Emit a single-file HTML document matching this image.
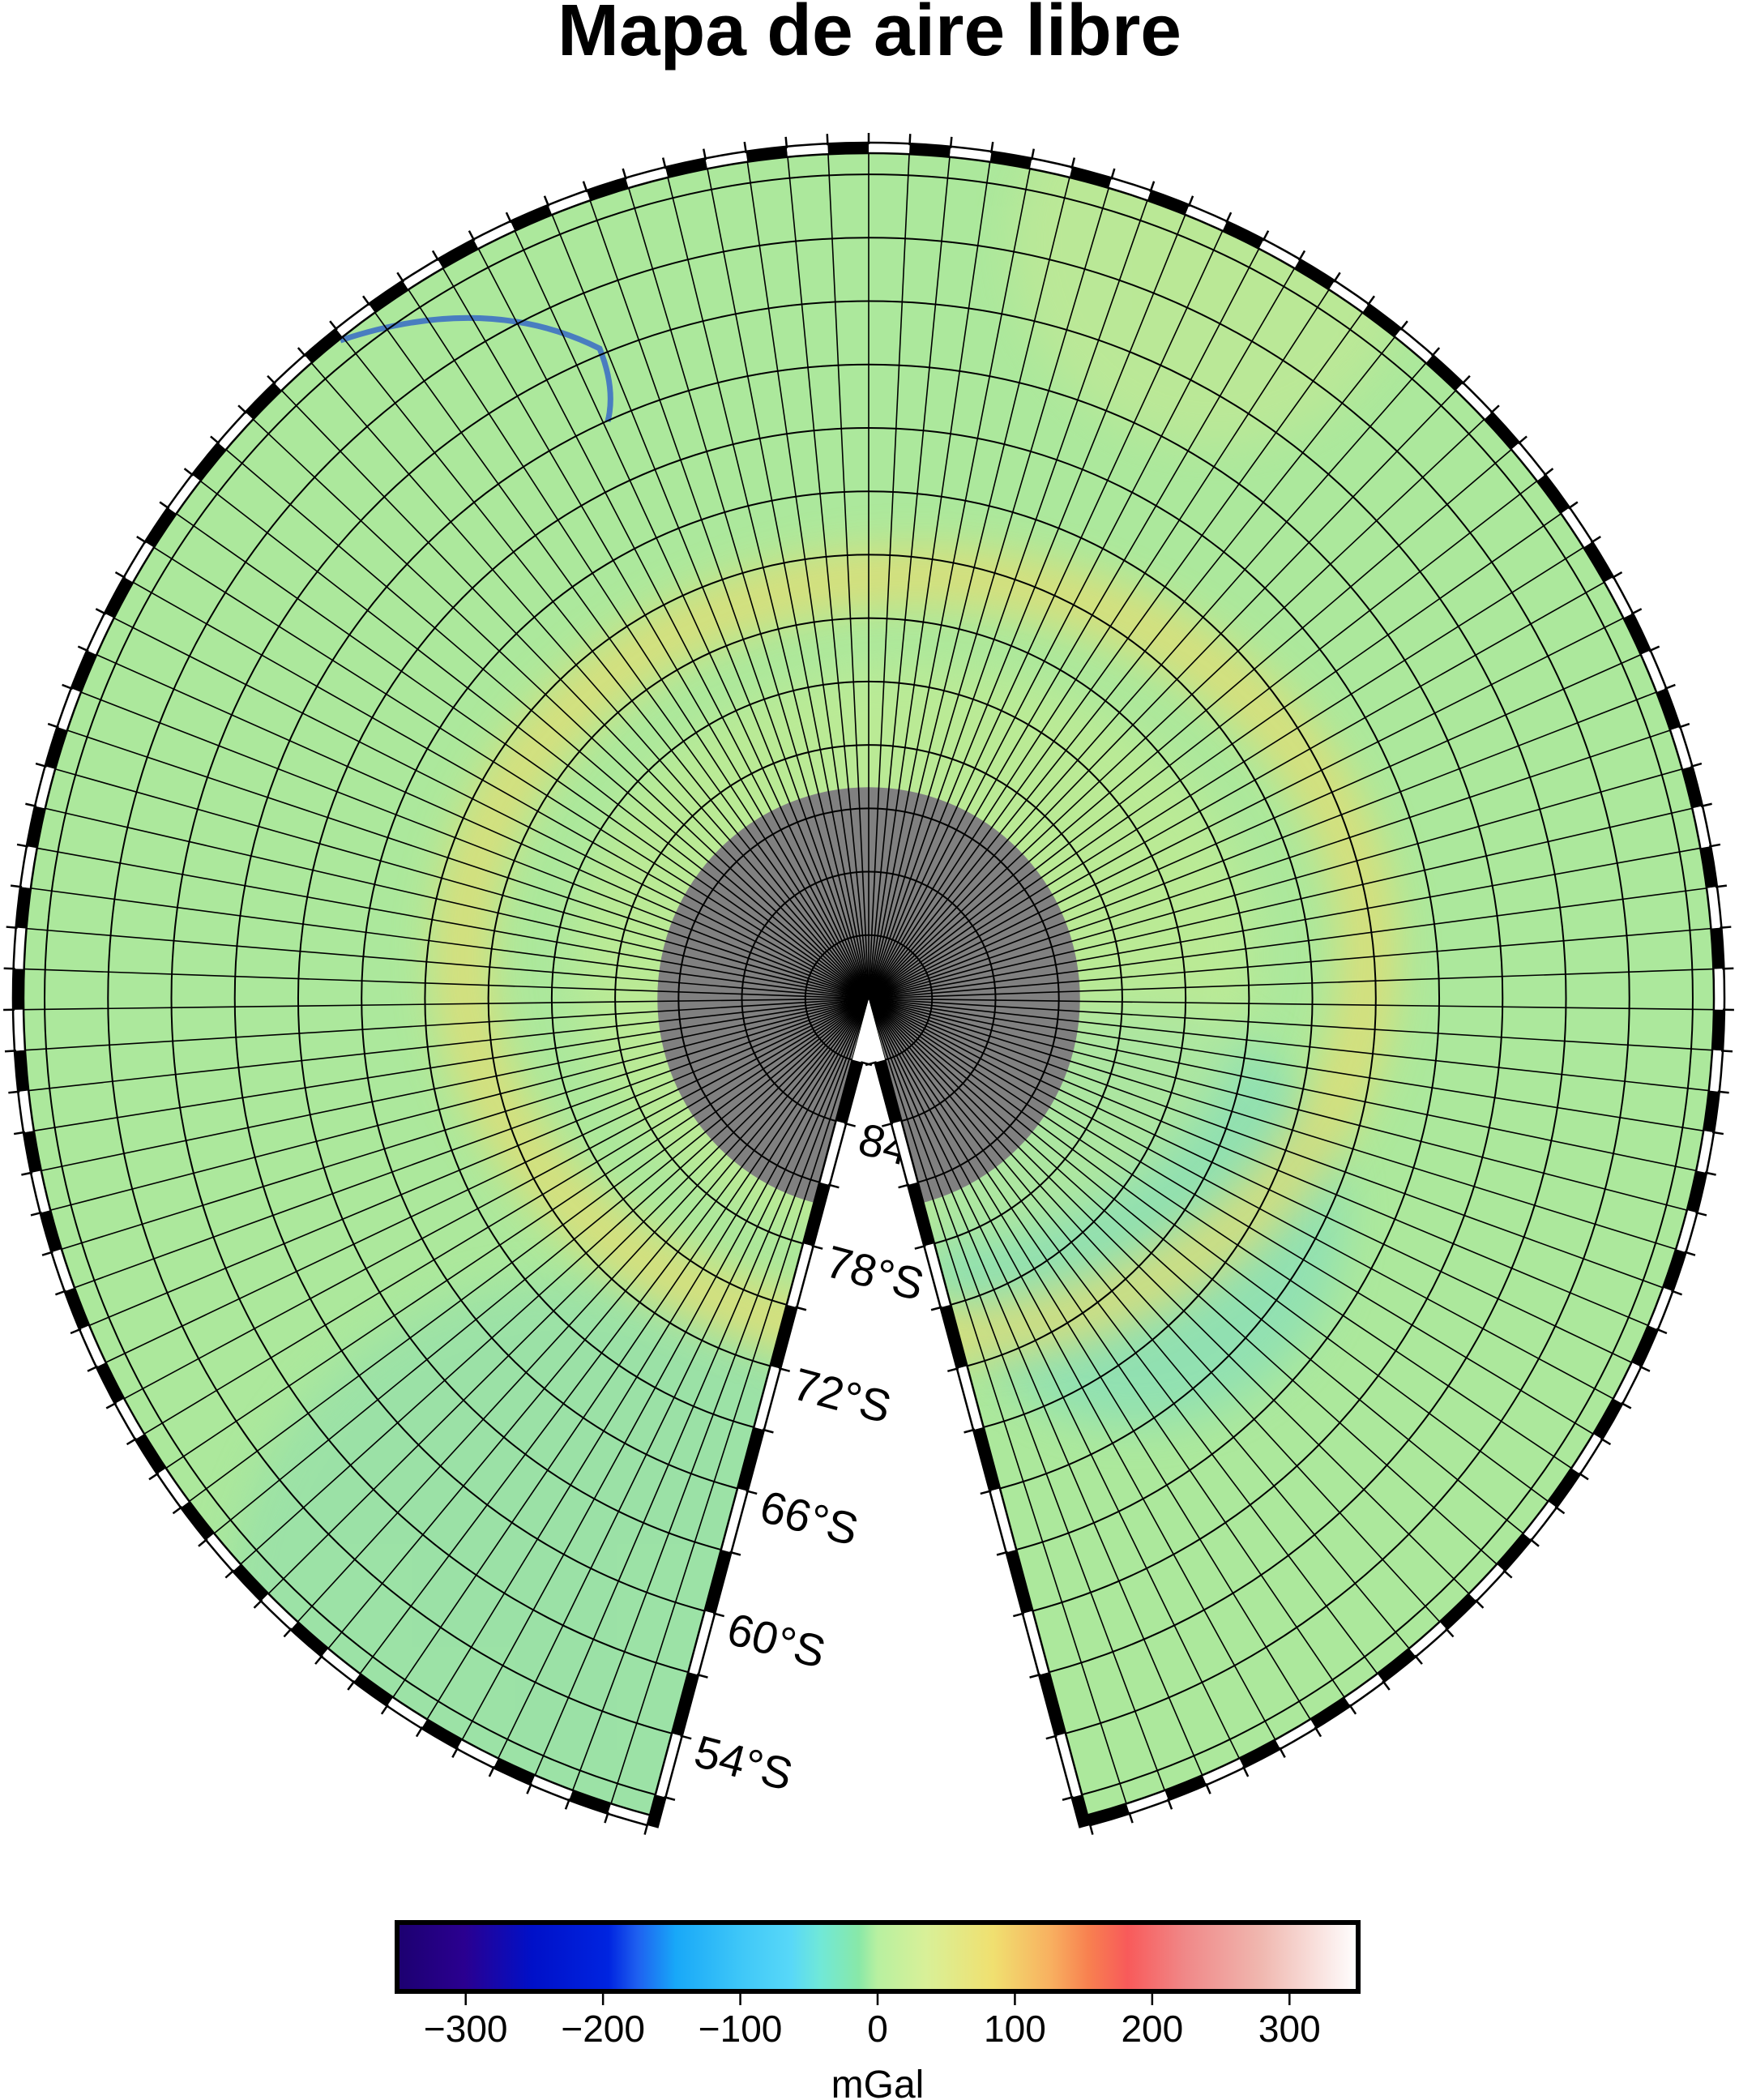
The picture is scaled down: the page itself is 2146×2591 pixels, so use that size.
<!DOCTYPE html>
<html><head><meta charset="utf-8"><style>
html,body{margin:0;padding:0;background:#fff;}
svg{display:block;}
text{font-family:"Liberation Sans",sans-serif;}
</style></head><body>
<svg id="chart" width="2146" height="2591" viewBox="0 0 2146 2591" xmlns="http://www.w3.org/2000/svg">
<defs>
  <linearGradient id="cpt" x1="0" x2="1" y1="0" y2="0">
    <stop offset="0" stop-color="#1c0070"/>
    <stop offset="0.07" stop-color="#2a0090"/>
    <stop offset="0.14" stop-color="#0010c8"/>
    <stop offset="0.22" stop-color="#0024e0"/>
    <stop offset="0.25" stop-color="#1e60f0"/>
    <stop offset="0.29" stop-color="#18a8f8"/>
    <stop offset="0.36" stop-color="#40c8f8"/>
    <stop offset="0.41" stop-color="#58d8f8"/>
    <stop offset="0.44" stop-color="#70e8d8"/>
    <stop offset="0.48" stop-color="#88e8a8"/>
    <stop offset="0.5" stop-color="#b8f0a0"/>
    <stop offset="0.55" stop-color="#d8f098"/>
    <stop offset="0.62" stop-color="#f0e070"/>
    <stop offset="0.68" stop-color="#f8b060"/>
    <stop offset="0.72" stop-color="#f88050"/>
    <stop offset="0.76" stop-color="#f85a5a"/>
    <stop offset="0.82" stop-color="#f08888"/>
    <stop offset="0.9" stop-color="#f0b8b0"/>
    <stop offset="1" stop-color="#ffffff"/>
  </linearGradient>
  <filter id="blur" x="-20%" y="-20%" width="140%" height="140%"><feGaussianBlur stdDeviation="25"/></filter>
  <clipPath id="sectorClip"><path id="sectorPath" d=""/></clipPath>
</defs>
<text x="1073" y="68" text-anchor="middle" font-size="90" font-weight="bold" textLength="770" lengthAdjust="spacingAndGlyphs">Mapa de aire libre</text>
<g id="labels"></g>
<g id="map"></g>
<g id="frame"></g>
<g id="cbar"></g>
</svg>
<script>
const latLabels = ["84°S","78°S","72°S","66°S","60°S","54°S"];
const latLabelValues = [-84,-78,-72,-66,-60,-54];
const cbarTicks = [-300,-200,-100,0,100,200,300];
const cbarRange = [-350,350];
const latGridStep = 3;
const lonGridStep = 3;
const boundaryLat = -50;
const grayLat = -80;

const NS="http://www.w3.org/2000/svg";
const CX=1072, CY=1232, R=1043;
const N=330/360;
const svg=document.getElementById('chart');
function el(tag,attrs,parent){const e=document.createElementNS(NS,tag);for(const k in attrs)e.setAttribute(k,attrs[k]);parent.appendChild(e);return e;}
function rOf(lat){return R*(90+lat)/(90+boundaryLat);}
function phiOf(lon){return 105+lon*N;}
function pt(r,phi){const a=phi*Math.PI/180;return [CX+r*Math.cos(a),CY+r*Math.sin(a)];}
function arcPath(r,p0,p1){const a=pt(r,p0),b=pt(r,p1);const large=(p1-p0)>180?1:0;return `M${a[0].toFixed(2)},${a[1].toFixed(2)} A${r},${r} 0 ${large} 1 ${b[0].toFixed(2)},${b[1].toFixed(2)}`;}
const P0=phiOf(0), P1=phiOf(360);
{const a=pt(R,P0),b=pt(R,P1);
document.getElementById('sectorPath').setAttribute('d',`M${CX},${CY} L${a[0]},${a[1]} A${R},${R} 0 1 1 ${b[0]},${b[1]} Z`);}

// labels (under map)
const lab=document.getElementById('labels');
latLabelValues.forEach((v,i)=>{
  const r=rOf(v)+12;const p=pt(r,P0);
  const a=15*Math.PI/180;
  const x=p[0]+34*Math.cos(a), y=p[1]+34*Math.sin(a);
  const t=el('text',{x:x,y:y,'font-size':56,'dominant-baseline':'central',transform:`rotate(15 ${x} ${y})`},lab);
  
  
  t.textContent=latLabels[i];
});

// map
const map=document.getElementById('map');
const g=el('g',{'clip-path':'url(#sectorClip)'},map);
el('rect',{x:0,y:0,width:2146,height:2591,fill:'#ace89c'},g);
el('circle',{cx:700,cy:2000,r:420,fill:'#8cdcb0',opacity:0.5,filter:'url(#blur)'},g);
el('circle',{cx:1400,cy:1500,r:260,fill:'#80dcc0',opacity:0.6,filter:'url(#blur)'},g);
el('ellipse',{cx:1130,cy:1180,rx:560,ry:470,fill:'none',stroke:'#e6dc70',"stroke-width":70,opacity:0.75,filter:'url(#blur)'},g);
el('ellipse',{cx:1130,cy:1180,rx:420,ry:360,fill:'#c8ec90',opacity:0.5,filter:'url(#blur)'},g);
el('circle',{cx:1500,cy:300,r:250,fill:'#d0e890',opacity:0.4,filter:'url(#blur)'},g);
el('path',{d:'M420,420 Q600,360 740,430 Q760,480 750,520',fill:'none',stroke:'#2050d0','stroke-width':7,opacity:0.7},g);
el('circle',{cx:CX,cy:CY,r:rOf(grayLat),fill:'#808080'},g);
for(let lat=-90+latGridStep;lat<boundaryLat;lat+=latGridStep){
  const c=el('path',{d:arcPath(rOf(lat),P0,P1),fill:'none',stroke:'#000','stroke-width':2},g);
  
  
}
for(let lon=0;lon<=360;lon+=lonGridStep){
  const b=pt(R,phiOf(lon));
  const m=el('line',{x1:CX,y1:CY,x2:b[0],y2:b[1],stroke:'#000','stroke-width':1.6},g);
  
  
}

// frame
const fr=document.getElementById('frame');
const W=13;
for(let lon=0,i=0;lon<360;lon+=lonGridStep,i++){
  const p0=phiOf(lon),p1=phiOf(lon+lonGridStep);
  const a=pt(R,p0),b=pt(R,p1),c=pt(R+W,p1),d=pt(R+W,p0);
  const s=el('path',{d:`M${a} A${R},${R} 0 0 1 ${b} L${c} A${R+W},${R+W} 0 0 0 ${d} Z`,fill:i%2?'#000':'#fff'},fr);
  
  
}
for(let lon=0;lon<=360;lon+=lonGridStep){
  const p=phiOf(lon);const a=pt(R+W-2,p),b=pt(R+W+12,p);
  el('line',{x1:a[0],y1:a[1],x2:b[0],y2:b[1],stroke:'#000','stroke-width':2.5},fr);
}
el('path',{d:arcPath(R,P0,P1),fill:'none',stroke:'#000','stroke-width':2.5},fr);
el('path',{d:arcPath(R+W,P0,P1),fill:'none',stroke:'#000','stroke-width':2.5},fr);
function edge(phi,sign){
  const a=phi*Math.PI/180;
  const nx=sign*Math.sin(a), ny=-sign*Math.cos(a);
  const rIn=rOf(-90+latGridStep);
  let i=0;
  for(let lat=-90+latGridStep;lat<boundaryLat;lat+=latGridStep,i++){
    const r1=rOf(lat), r2=Math.min(rOf(lat+latGridStep),R+W);
    const p1=pt(r1,phi),p2=pt(r2,phi);
    const s=el('polygon',{points:`${p1} ${p2} ${p2[0]+W*nx},${p2[1]+W*ny} ${p1[0]+W*nx},${p1[1]+W*ny}`,fill:i%2?'#fff':'#000'},fr);
    
    
  }
  for(let lat=-90+latGridStep;lat<=boundaryLat;lat+=latGridStep){
    const p=pt(rOf(lat),phi);
    el('line',{x1:p[0]+(W-2)*nx,y1:p[1]+(W-2)*ny,x2:p[0]+(W+12)*nx,y2:p[1]+(W+12)*ny,stroke:'#000','stroke-width':2.5},fr);
  }
  const q1=pt(rIn,phi),q2=pt(R+W,phi);
  el('line',{x1:q1[0],y1:q1[1],x2:q2[0],y2:q2[1],stroke:'#000','stroke-width':2.5},fr);
  el('line',{x1:q1[0]+W*nx,y1:q1[1]+W*ny,x2:q2[0]+W*nx,y2:q2[1]+W*ny,stroke:'#000','stroke-width':2.5},fr);
}
edge(P0,1);edge(P1,-1);

// colorbar
const cb=document.getElementById('cbar');
const BX0=490,BX1=1676,BY0=2372,BY1=2457;
function xOf(v){return BX0+(v-cbarRange[0])/(cbarRange[1]-cbarRange[0])*(BX1-BX0);}
const rect=el('rect',{x:BX0,y:BY0,width:BX1-BX0,height:BY1-BY0,fill:'url(#cpt)',stroke:'#000','stroke-width':6},cb);


cbarTicks.forEach(v=>{
  const x=xOf(v);
  el('line',{x1:x,y1:BY1+3,x2:x,y2:BY1+17,stroke:'#000','stroke-width':2.5},cb);
  const t=el('text',{x:x,y:2519,'text-anchor':'middle','font-size':46},cb);
  
  
  t.textContent=(v<0?'\u2212':'')+Math.abs(v);
});
const u=el('text',{x:1083,y:2588,'text-anchor':'middle','font-size':48},cb);


u.textContent='mGal';
</script>
</body></html>
